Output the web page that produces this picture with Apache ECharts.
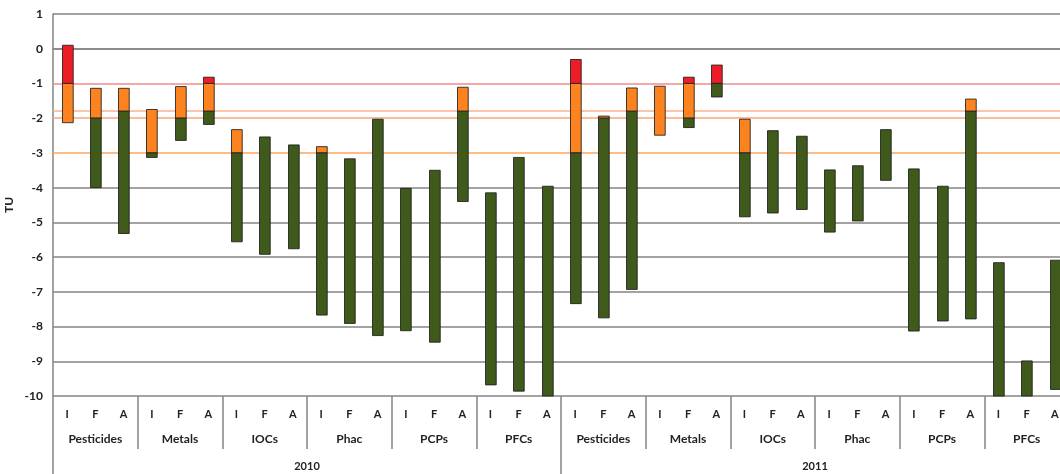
<!DOCTYPE html>
<html>
<head>
<meta charset="utf-8">
<script src="https://cdn.jsdelivr.net/npm/echarts@6/dist/echarts.min.js"></script>
<style>html,body{margin:0;padding:0;background:#fff;}#chart{width:1060px;height:474px;}</style>
</head>
<body>
<div id="chart"></div>
<script>
// ---- data ----
const years = ['2010', '2011'];
const groups = ['Pesticides', 'Metals', 'IOCs', 'Phac', 'PCPs', 'PFCs'];
const endpoints = ['I', 'F', 'A'];
const yTicks = { min: -10, max: 1, interval: 1 };
const yName = 'TU';

// per category [low, high] ranges (null = no segment); order: year > group > endpoint
const redRange = [
  [-1, 0.1], null, null,  null, null, [-1, -0.82],  null, null, null,  null, null, null,  null, null, null,  null, null, null,
  [-1, -0.31], null, null,  null, [-1, -0.82], [-1, -0.47],  null, null, null,  null, null, null,  null, null, null,  null, null, null
];
const orangeRange = [
  [-2.13, -1], [-2, -1.14], [-1.8, -1.14],  [-3, -1.75], [-2, -1.09], [-1.8, -1],  [-3, -2.33], null, null,  [-3, -2.82], null, null,  null, null, [-1.8, -1.11],  null, null, null,
  [-3, -1], [-2, -1.94], [-1.8, -1.13],  [-2.49, -1.08], [-2, -1], null,  [-3, -2.03], null, null,  null, null, null,  null, null, [-1.8, -1.45],  null, null, null
];
const greenRange = [
  null, [-4.0, -2], [-5.32, -1.8],  [-3.13, -3], [-2.64, -2], [-2.18, -1.8],  [-5.56, -3], [-5.92, -2.54], [-5.76, -2.77],  [-7.67, -3], [-7.91, -3.17], [-8.26, -2.03],  [-8.12, -4.02], [-8.45, -3.5], [-4.4, -1.8],  [-9.68, -4.15], [-9.86, -3.13], [-10, -3.96],
  [-7.34, -3], [-7.75, -2], [-6.93, -1.8],  null, [-2.27, -2], [-1.39, -1],  [-4.84, -3], [-4.73, -2.36], [-4.63, -2.52],  [-5.28, -3.49], [-4.96, -3.37], [-3.79, -2.33],  [-8.13, -3.46], [-7.84, -3.96], [-7.78, -1.8],  [-10, -6.16], [-10, -8.99], [-9.81, -6.09]
];
const thresholds = [-1, -1.8, -2, -3];

// ---- build ----
const categories = [];
const groupLabels = [];
years.forEach(() => groups.forEach(g => { groupLabels.push(g); endpoints.forEach(e => categories.push(e)); }));

const FONT = 'Lato, "Open Sans", "Liberation Sans", sans-serif';
const thresholdColors = ['#f28a8e', '#fbb090', '#fba47a', '#fda45e'];
const gridColor = '#858585';

function toData(ranges) {
  const out = [];
  ranges.forEach((r, i) => { if (r) out.push([i, r[0], r[1]]); });
  return out;
}
function rangeSeries(name, ranges, color) {
  return {
    name: name,
    type: 'custom',
    z: 5,
    encode: { x: 0, y: [1, 2] },
    data: toData(ranges),
    renderItem: function (params, api) {
      const x = api.value(0);
      const lo = api.value(1), hi = api.value(2);
      const p1 = api.coord([x, hi]);
      const p2 = api.coord([x, lo]);
      const w = api.size([1, 0])[0] * 0.38;
      return {
        type: 'rect',
        shape: { x: Math.round(p1[0] - w / 2) + 0.5, y: p1[1], width: w, height: p2[1] - p1[1] },
        style: { fill: color, stroke: 'rgba(30,30,30,0.85)', lineWidth: 1 }
      };
    }
  };
}

// split line colours: ticks -10..1; threshold ticks hidden (drawn by markLines)
const splitColors = [];
for (let v = yTicks.min; v <= yTicks.max; v += yTicks.interval) {
  splitColors.push(thresholds.indexOf(v) >= 0 ? 'rgba(0,0,0,0)' : gridColor);
}

const chart = echarts.init(document.getElementById('chart'), null, { renderer: 'canvas' });
chart.setOption({
  animation: false,
  backgroundColor: '#ffffff',
  grid: { left: 53, top: 14, width: 1016, height: 382, containLabel: false, outerBoundsMode: 'none' },
  xAxis: [
    {
      type: 'category', data: categories, position: 'bottom',
      axisLine: { show: true, lineStyle: { color: gridColor, width: 1.5 } },
      axisTick: { show: false },
      axisLabel: { interval: 0, margin: 13, fontFamily: FONT, fontWeight: 'bold', fontSize: 11, color: '#222' }
    },
    {
      type: 'category', data: groupLabels, position: 'bottom',
      axisLine: { show: false },
      axisTick: { show: true, length: 53, lineStyle: { color: gridColor, width: 1.5 } },
      axisLabel: { interval: 0, margin: 37, fontFamily: FONT, fontWeight: 'bold', fontSize: 12, color: '#222' }
    },
    {
      type: 'category', data: years, position: 'bottom',
      axisLine: { show: false },
      axisTick: { show: true, length: 78, lineStyle: { color: gridColor, width: 1.5 } },
      axisLabel: { interval: 0, margin: 65, fontFamily: FONT, fontWeight: 'bold', fontSize: 11, color: '#222' }
    }
  ],
  yAxis: {
    type: 'value', min: yTicks.min, max: yTicks.max, interval: yTicks.interval,
    name: yName, nameLocation: 'middle', nameGap: 38, nameRotate: 90, nameMoveOverlap: false,
    nameTextStyle: { fontFamily: FONT, fontWeight: 'bold', fontSize: 12, color: '#222' },
    axisLine: { show: true, lineStyle: { color: gridColor, width: 1.5 } },
    axisTick: { show: false },
    axisLabel: { margin: 10, fontFamily: FONT, fontWeight: 'bold', fontSize: 12, color: '#222' },
    splitLine: { show: true, lineStyle: { color: splitColors, width: 1.5 } }
  },
  series: [
    {
      name: 'thresholds', type: 'line', data: [], z: 1, silent: true,
      markLine: {
        silent: true, symbol: 'none', animation: false,
        label: { show: false },
        data: thresholds.map((t, i) => ({ yAxis: t, lineStyle: { color: thresholdColors[i], width: 1.5, type: 'solid' } }))
      }
    },
    rangeSeries('red', redRange, '#ee1c25'),
    rangeSeries('orange', orangeRange, '#fd8321'),
    rangeSeries('green', greenRange, '#3f5a1b')
  ]
});
</script>
</body>
</html>
